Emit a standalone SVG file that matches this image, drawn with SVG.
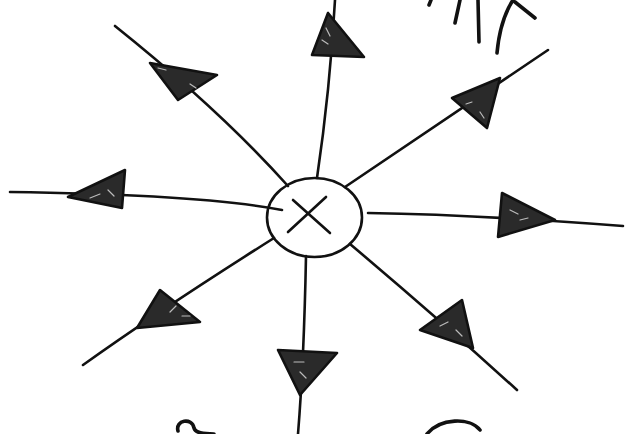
<svg xmlns="http://www.w3.org/2000/svg" width="628" height="434" viewBox="0 0 628 434">
<defs>
<style>
.ln{fill:none;stroke:#111;stroke-width:2.6;stroke-linecap:round;stroke-linejoin:round}
.mk{fill:none;stroke:#111;stroke-width:3.6;stroke-linecap:round;stroke-linejoin:round}
.ah{fill:#2a2a2a;stroke:#111;stroke-width:2.6;stroke-linejoin:round}
.sp{fill:none;stroke:#bbb;stroke-width:1.2;stroke-linecap:round}
</style>
</defs>
<rect width="628" height="434" fill="#fff"/>
<g id="connectors">
<path class="ln" d="M317,178 Q330,90 335,0"/>
<polygon class="ah" points="328,13 312,55 364,57"/>
<path class="ln" d="M288,186 Q220,110 115,26"/>
<polygon class="ah" points="150,63 217,75 178,100"/>
<path class="ln" d="M345,187 Q400,150 548,50"/>
<polygon class="ah" points="500,78 452,98 487,128"/>
<path class="ln" d="M282,210 C230,200 150,194 10,192"/>
<polygon class="ah" points="68,197 125,170 122,208"/>
<path class="ln" d="M368,213 C430,214 520,218 623,226"/>
<polygon class="ah" points="502,193 498,237 555,220"/>
<path class="ln" d="M274,238 Q160,310 83,365"/>
<polygon class="ah" points="160,290 200,322 137,328"/>
<path class="ln" d="M306,256 Q304,360 298,434"/>
<polygon class="ah" points="278,350 337,353 300,395"/>
<path class="ln" d="M350,244 Q440,320 517,390"/>
<polygon class="ah" points="420,330 462,300 473,348"/>
<path class="sp" d="M322,40 l6,4 M326,28 l4,8 M158,68 l8,2 M190,84 l6,4 M466,104 l6,-2 M480,112 l4,6 M90,198 l10,-4 M108,190 l6,6 M510,210 l8,4 M520,220 l8,-2 M170,312 l6,-6 M182,316 l8,0 M294,362 l10,0 M300,372 l6,6 M440,326 l8,-4 M456,330 l6,6"/>
</g>
<g id="center">
<ellipse class="ln" cx="314.5" cy="217.5" rx="47.5" ry="39.5"/>
<path class="ln" d="M293,200 L330,233 M326,197 L288,232"/>
</g>
<g id="marks">
<path class="mk" d="M431,0 L429,5 M460,0 L455,23 M478,0 L479,42 M513,0 Q500,20 497,53 M515,2 L535,18"/>
<path class="mk" d="M178,431 C175,420 192,417 194,428 C195,432 200,434 214,434"/>
<path class="mk" d="M427,434 C440,418 470,417 480,430"/>
</g>
</svg>
